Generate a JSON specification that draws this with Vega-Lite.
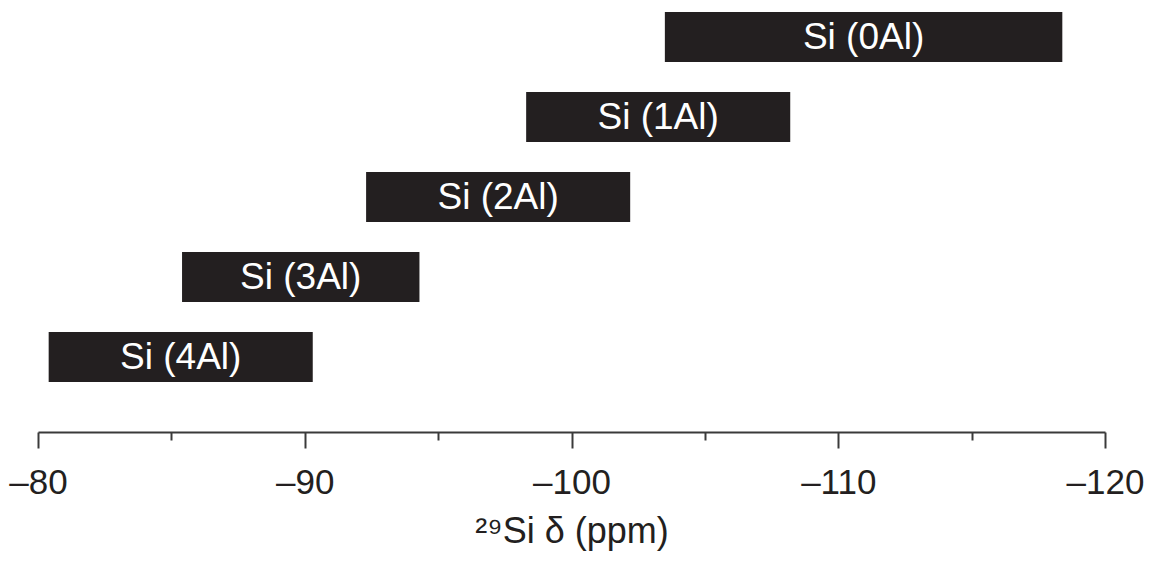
{
  "$schema": "https://vega.github.io/schema/vega-lite/v6.json",
  "autosize": "none",
  "width": 1067,
  "height": 432,
  "padding": {"left": 38, "top": 0, "right": 51, "bottom": 129},
  "background": "white",
  "config": {
    "view": {"stroke": null},
    "font": "Liberation Sans"
  },
  "data": {
    "values": [
      {"site": "Si (0Al)", "start": -103.5, "end": -118.4},
      {"site": "Si (1Al)", "start": -98.3, "end": -108.2},
      {"site": "Si (2Al)", "start": -92.3, "end": -102.2},
      {"site": "Si (3Al)", "start": -85.4, "end": -94.3},
      {"site": "Si (4Al)", "start": -80.4, "end": -90.3}
    ]
  },
  "encoding": {
    "y": {
      "field": "site",
      "type": "nominal",
      "sort": null,
      "scale": {"range": [12, 382], "paddingInner": 0.375, "paddingOuter": 0},
      "axis": null
    }
  },
  "layer": [
    {
      "mark": {"type": "bar", "color": "#231f20"},
      "encoding": {
        "x": {
          "field": "start",
          "type": "quantitative",
          "scale": {"domain": [-80, -120], "nice": false, "zero": false},
          "axis": {
            "values": [-80, -85, -90, -95, -100, -105, -110, -115, -120],
            "grid": false,
            "domainColor": "#3a3a3a",
            "domainWidth": 2,
            "tickColor": "#3a3a3a",
            "tickWidth": 2,
            "tickSize": {"condition": {"test": "datum.value % 10 === 0", "value": 16}, "value": 8},
            "labelExpr": "datum.value % 10 === 0 ? '–' + abs(datum.value) : ''",
            "labelFontSize": 35,
            "labelColor": "#231f20",
            "labelPadding": 17,
            "labelFlush": false,
            "labelOverlap": false,
            "title": "²⁹Si δ (ppm)",
            "titleFontSize": 36,
            "titleFontWeight": "normal",
            "titleColor": "#231f20",
            "titlePadding": 14
          }
        },
        "x2": {"field": "end"}
      }
    },
    {
      "transform": [{"calculate": "(datum.start + datum.end) / 2", "as": "mid"}],
      "mark": {"type": "text", "color": "white", "fontSize": 37, "align": "center", "baseline": "middle", "dy": 1},
      "encoding": {
        "x": {"field": "mid", "type": "quantitative"},
        "text": {"field": "site"}
      }
    }
  ]
}
